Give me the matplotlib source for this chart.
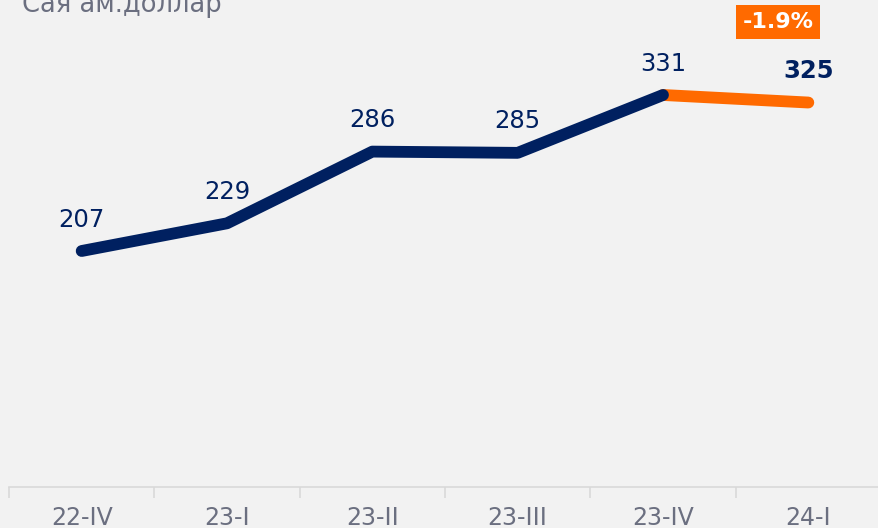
import matplotlib.pyplot as plt

# data
quarters = ['22-IV', '23-I', '23-II', '23-III', '23-IV', '24-I']
values = [207, 229, 286, 285, 331, 325]
change_label = '-1.9%'
unit_label = 'Сая ам.доллар'

NAVY = '#002060'
ORANGE = '#ff6a00'
GRAY = '#6b6f80'
BG = '#f2f2f2'

plt.rcParams['font.family'] = ['DejaVu Sans']

fig = plt.figure(figsize=(8.79, 5.28), dpi=100, facecolor=BG)
ax = fig.add_axes([9 / 879, 41 / 528, 872 / 879, 487 / 528], facecolor=BG)

x = list(range(len(quarters)))
ax.plot(x[:-1], values[:-1], color=NAVY, lw=8.5, solid_capstyle='round',
        solid_joinstyle='round', zorder=3)
ax.plot(x[-2:], values[-2:], color=ORANGE, lw=8.5, solid_capstyle='round', zorder=2)

for i, v in enumerate(values):
    last = i == len(values) - 1
    ax.annotate(f'{v}', (i, v), xytext=(0, 14), textcoords='offset points',
                ha='center', va='bottom', fontsize=17.5, color=NAVY,
                fontweight='bold' if last else 'normal')

# change box
ax.annotate(change_label, (x[-1], values[-1]), xytext=(-22, 58), textcoords='offset points',
            ha='center', va='center', fontsize=16, color='white', fontweight='bold',
            bbox=dict(boxstyle='square,pad=0.3', fc=ORANGE, ec='none'))

ax.set_xlim(-0.5, len(quarters) - 0.5)
ax.set_ylim(19.4, 406.5)
ax.set_yticks([])
ax.set_xticks(x)
ax.set_xticklabels(quarters, fontsize=17, color=GRAY)
ax.set_xticks([i - 0.5 for i in range(len(quarters) + 1)], minor=True)
ax.tick_params(axis='x', which='major', length=0, pad=14)
ax.tick_params(axis='x', which='minor', length=8, width=1.2, color='#d9d9d9')
for s in ['top', 'right', 'left']:
    ax.spines[s].set_visible(False)
ax.spines['bottom'].set_color('#d9d9d9')
ax.spines['bottom'].set_linewidth(1.2)

fig.text(22 / 879, 1 - 12 / 528, unit_label, fontsize=18.5, color=GRAY, va='baseline')

fig.savefig('out.png', dpi=100, facecolor=BG)
